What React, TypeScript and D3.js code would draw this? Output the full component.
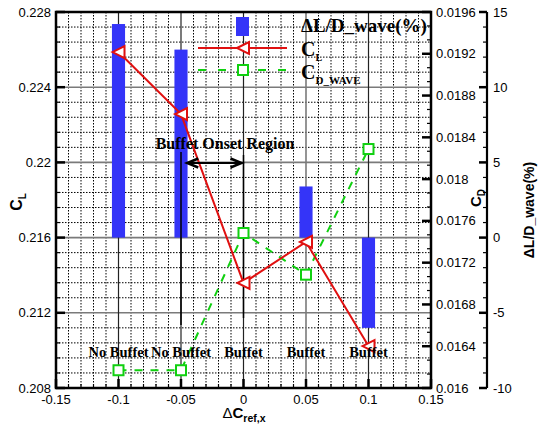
import React, { useEffect, useRef } from 'react';
import * as d3 from 'd3';

// data
const dxRef = [-0.1, -0.05, 0, 0.05, 0.1];
const deltaLD = [14.2, 12.5, 0, 3.4, -6.0];
const cl = [0.22587, 0.22257, 0.21359, 0.21577, 0.21023];
const cdWave = [0.01617, 0.01617, 0.017484, 0.017085, 0.018288];
const regime = ['No Buffet', 'No Buffet', 'Buffet', 'Buffet', 'Buffet'];

const xTicks = [-0.15, -0.1, -0.05, 0, 0.05, 0.1, 0.15];
const clTicks = [0.208, 0.212, 0.216, 0.22, 0.224, 0.228];
const cdTicks = [0.016, 0.0164, 0.0168, 0.0172, 0.0176, 0.018, 0.0184, 0.0188, 0.0192, 0.0196];
const pctTicks = [-10, -5, 0, 5, 10, 15];

const SANS = 'Liberation Sans, Arial, sans-serif';
const SERIF = 'Liberation Serif, Times New Roman, serif';
const BLUE = '#3434f8';
const RED = '#e01010';
const GREEN = '#10d010';

export default () => {
  const svgRef = useRef<SVGSVGElement>(null);

  useEffect(() => {
    if (!svgRef.current) {
      return;
    }
    const svg = d3.select(svgRef.current);
    svg.selectAll('*').remove();

    const L = 56, R = 431, T = 12, B = 388;
    const x = d3.scaleLinear().domain([-0.15, 0.15]).range([L, R]);
    const yL = d3.scaleLinear().domain([0.208, 0.228]).range([B, T]);
    const yD = d3.scaleLinear().domain([0.016, 0.0196]).range([B, T]);
    const yP = d3.scaleLinear().domain([-10, 15]).range([B, T]);

    // minor dotted grid
    const g = svg.append('g');
    const xMinor = d3.range(-0.15, 0.1501, 0.01).filter((v) => Math.abs(Math.round(v * 20) - v * 20) > 1e-6);
    g.selectAll('line.vx').data(xMinor).enter().append('line')
      .attr('x1', (d) => x(d)).attr('x2', (d) => x(d)).attr('y1', T).attr('y2', B)
      .attr('stroke', '#000').attr('stroke-width', 1).attr('stroke-dasharray', '1.5,1.5');
    const yMinor = d3.range(0.208, 0.2281, 0.0008).filter((v) => Math.abs(Math.round(v / 0.004) - v / 0.004) > 1e-6);
    g.selectAll('line.hy').data(yMinor).enter().append('line')
      .attr('x1', L).attr('x2', R).attr('y1', (d) => yL(d)).attr('y2', (d) => yL(d))
      .attr('stroke', '#000').attr('stroke-width', 1).attr('stroke-dasharray', '1.5,1.5');

    // major grid
    g.selectAll('line.hmaj').data(clTicks.slice(1, -1)).enter().append('line')
      .attr('x1', L).attr('x2', R).attr('y1', (d) => yL(d)).attr('y2', (d) => yL(d))
      .attr('stroke', '#7a7a7a').attr('stroke-width', 1.6);
    g.selectAll('line.vmaj').data(xTicks.slice(1, -1)).enter().append('line')
      .attr('x1', (d) => x(d)).attr('x2', (d) => x(d)).attr('y1', T).attr('y2', B)
      .attr('stroke', (d) => (d === 0.05 ? '#7a7a7a' : '#222')).attr('stroke-width', (d) => (d === 0.05 ? 1.6 : 1.2));

    // bars
    const barW = x(0.0105) - x(0);
    svg.append('g').selectAll('rect').data(dxRef.map((d, i) => [d, deltaLD[i]]).filter((d) => d[1] !== 0))
      .enter().append('rect')
      .attr('x', (d) => x(d[0]) - barW / 2)
      .attr('width', barW)
      .attr('y', (d) => Math.min(yP(d[1]), yP(0)))
      .attr('height', (d) => Math.abs(yP(d[1]) - yP(0)))
      .attr('fill', BLUE);

    // annotation lines over bars
    svg.append('line').attr('x1', x(-0.05)).attr('x2', x(-0.05)).attr('y1', 152).attr('y2', 325)
      .attr('stroke', '#000').attr('stroke-width', 1.5);
    svg.append('line').attr('x1', x(0)).attr('x2', x(0)).attr('y1', 155).attr('y2', 318)
      .attr('stroke', '#000').attr('stroke-width', 1.5);

    // CD_wave line
    const cdLine = d3.line<number>().x((d, i) => x(dxRef[i])).y((d) => yD(d));
    svg.append('path').attr('d', cdLine(cdWave)).attr('fill', 'none')
      .attr('stroke', GREEN).attr('stroke-width', 2).attr('stroke-dasharray', '8,8');

    // CL line
    const clLine = d3.line<number>().x((d, i) => x(dxRef[i])).y((d) => yL(d));
    svg.append('path').attr('d', clLine(cl)).attr('fill', 'none')
      .attr('stroke', RED).attr('stroke-width', 2);

    const tri = 'M-6,0 L6,-6 L6,6 Z';
    svg.append('g').selectAll('path').data(cl).enter().append('path')
      .attr('d', tri)
      .attr('transform', (d, i) => `translate(${x(dxRef[i])},${yL(d)})`)
      .attr('fill', '#fff').attr('stroke', RED).attr('stroke-width', 2);
    svg.append('g').selectAll('rect').data(cdWave).enter().append('rect')
      .attr('x', (d, i) => x(dxRef[i]) - 5).attr('y', (d) => yD(d) - 5)
      .attr('width', 10).attr('height', 10)
      .attr('fill', '#fff').attr('stroke', GREEN).attr('stroke-width', 2);

    // regime labels
    svg.append('g').selectAll('text').data(regime).enter().append('text')
      .attr('x', (d, i) => x(dxRef[i])).attr('y', 357)
      .attr('text-anchor', 'middle')
      .style('font-family', SERIF).style('font-weight', 'bold').style('font-size', '14.5px')
      .text((d) => d);

    // buffet onset region
    svg.append('text').attr('x', 225).attr('y', 149).attr('text-anchor', 'middle')
      .style('font-family', SERIF).style('font-weight', 'bold').style('font-size', '16px')
      .text('Buffet Onset Region');
    const ay = 163;
    const ax1 = x(-0.045), ax2 = x(0) - 2;
    svg.append('line').attr('x1', ax1).attr('x2', ax2).attr('y1', ay).attr('y2', ay)
      .attr('stroke', '#000').attr('stroke-width', 2.2);
    svg.append('path').attr('d', `M${ax1 + 11},${ay - 4.5} L${ax1},${ay} L${ax1 + 11},${ay + 4.5}`)
      .attr('fill', 'none').attr('stroke', '#000').attr('stroke-width', 2.5);
    svg.append('path').attr('d', `M${ax2 - 11},${ay - 4.5} L${ax2},${ay} L${ax2 - 11},${ay + 4.5}`)
      .attr('fill', 'none').attr('stroke', '#000').attr('stroke-width', 2.5);

    // legend
    const lg = svg.append('g');
    lg.append('rect').attr('x', 236).attr('y', 17).attr('width', 13).attr('height', 19).attr('fill', BLUE);
    lg.append('line').attr('x1', 198).attr('x2', 287).attr('y1', 48).attr('y2', 48)
      .attr('stroke', RED).attr('stroke-width', 2);
    lg.append('path').attr('d', tri).attr('transform', 'translate(243,48)')
      .attr('fill', '#fff').attr('stroke', RED).attr('stroke-width', 2);
    lg.append('line').attr('x1', 198).attr('x2', 287).attr('y1', 70).attr('y2', 70)
      .attr('stroke', GREEN).attr('stroke-width', 2).attr('stroke-dasharray', '8,12');
    lg.append('rect').attr('x', 238).attr('y', 65).attr('width', 10).attr('height', 10)
      .attr('fill', '#fff').attr('stroke', GREEN).attr('stroke-width', 2);
    const legText = (y: number) => lg.append('text').attr('x', 301).attr('y', y)
      .style('font-family', SERIF).style('font-weight', 'bold');
    legText(32).style('font-size', '19px').text('ΔL/D_wave(%)');
    const t2 = legText(56).style('font-size', '20px');
    t2.append('tspan').text('C');
    t2.append('tspan').attr('dy', 5).style('font-size', '10px').text('L');
    const t3 = legText(79).style('font-size', '20px');
    t3.append('tspan').text('C');
    t3.append('tspan').attr('dy', 5).style('font-size', '11px').text('D_WAVE');

    // axes ticks
    const ax = svg.append('g').attr('stroke', '#000');
    const xMinorAll = d3.range(-0.15, 0.1501, 0.01);
    ax.selectAll('line.bt').data(xMinorAll).enter().append('line')
      .attr('x1', (d) => x(d)).attr('x2', (d) => x(d)).attr('y1', B)
      .attr('y2', (d) => B - (Math.abs(Math.round(d * 20) - d * 20) < 1e-6 ? 9 : 4))
      .attr('stroke-width', (d) => (Math.abs(Math.round(d * 20) - d * 20) < 1e-6 ? 2.5 : 1.2));
    const yMinorAll = d3.range(0.208, 0.2281, 0.0008);
    ax.selectAll('line.lt').data(yMinorAll).enter().append('line')
      .attr('y1', (d) => yL(d)).attr('y2', (d) => yL(d)).attr('x1', L)
      .attr('x2', (d) => L + (Math.abs(Math.round(d / 0.004) - d / 0.004) < 1e-6 ? 9 : 4))
      .attr('stroke-width', (d) => (Math.abs(Math.round(d / 0.004) - d / 0.004) < 1e-6 ? 2.5 : 1.2));
    const cdMinor = d3.range(0, 28).map((i) => 0.016 + (i * 0.0004) / 3);
    ax.selectAll('line.rt').data(cdMinor).enter().append('line')
      .attr('y1', (d) => yD(d)).attr('y2', (d) => yD(d)).attr('x1', R)
      .attr('x2', (d, i) => R - (i % 3 === 0 ? 9 : 4))
      .attr('stroke-width', (d, i) => (i % 3 === 0 ? 2.5 : 1.2));
    const A3 = 487;
    ax.append('line').attr('x1', A3).attr('x2', A3).attr('y1', T).attr('y2', B).attr('stroke-width', 2.2);
    ax.selectAll('line.pt').data(d3.range(-10, 16, 1)).enter().append('line')
      .attr('y1', (d) => yP(d)).attr('y2', (d) => yP(d)).attr('x1', A3)
      .attr('x2', (d) => A3 - (d % 5 === 0 ? 8 : 4))
      .attr('stroke-width', (d) => (d % 5 === 0 ? 2.5 : 1.2));

    // frame
    svg.append('rect').attr('x', L).attr('y', T).attr('width', R - L).attr('height', B - T)
      .attr('fill', 'none').attr('stroke', '#000').attr('stroke-width', 2.5);

    // tick labels
    const lab = svg.append('g').style('font-family', SANS).style('font-size', '13px').attr('fill', '#000');
    lab.selectAll('text.x').data(xTicks).enter().append('text')
      .attr('x', (d) => x(d)).attr('y', 404).attr('text-anchor', 'middle')
      .text((d) => String(d));
    lab.selectAll('text.l').data(clTicks).enter().append('text')
      .attr('x', 51).attr('y', (d) => yL(d)).attr('dy', '0.35em').attr('text-anchor', 'end')
      .text((d) => String(d));
    lab.selectAll('text.r').data(cdTicks).enter().append('text')
      .attr('x', 436).attr('y', (d) => yD(d)).attr('dy', '0.35em')
      .text((d) => String(d));
    lab.selectAll('text.p').data(pctTicks).enter().append('text')
      .attr('x', 493).attr('y', (d) => yP(d)).attr('dy', '0.35em')
      .text((d) => String(d));

    // axis titles
    const title = svg.append('g').style('font-family', SANS).style('font-weight', 'bold').attr('fill', '#000');
    const xt = title.append('text').attr('x', 244).attr('y', 418).attr('text-anchor', 'middle').style('font-size', '15px');
    xt.append('tspan').style('font-weight', 'normal').text('Δ');
    xt.append('tspan').text('C');
    xt.append('tspan').attr('dy', 4).style('font-size', '10.5px').text('ref,x');
    const ylt = title.append('text').attr('transform', 'translate(22,202) rotate(-90)').attr('text-anchor', 'middle').style('font-size', '16px');
    ylt.append('tspan').text('C');
    ylt.append('tspan').attr('dy', 4).style('font-size', '10px').text('L');
    const ydt = title.append('text').attr('transform', 'translate(481,198) rotate(-90)').attr('text-anchor', 'middle').style('font-size', '15px');
    ydt.append('tspan').text('C');
    ydt.append('tspan').attr('dy', 4).style('font-size', '10px').text('D');
    title.append('text').attr('transform', 'translate(534,210) rotate(-90)').attr('text-anchor', 'middle')
      .style('font-size', '14px').text('ΔL/D_wave(%)');
  }, []);

  return (
    <svg ref={svgRef} width={542} height={429}
      style={{ position: 'absolute', left: 0, top: 0, background: '#fff' }} />
  );
};
